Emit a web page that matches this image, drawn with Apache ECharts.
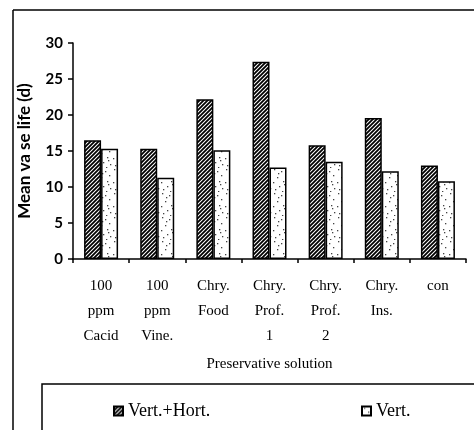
<!DOCTYPE html>
<html>
<head>
<meta charset="utf-8">
<script src="https://cdn.jsdelivr.net/npm/echarts@6/dist/echarts.min.js"></script>
<style>
  html, body { margin: 0; padding: 0; background: #fff; }
  #chart { width: 474px; height: 430px; }
</style>
</head>
<body>
<div id="chart"></div>
<script>
const categories = ['100\nppm\nCacid', '100\nppm\nVine.', 'Chry.\nFood', 'Chry.\nProf.\n1', 'Chry.\nProf.\n2', 'Chry.\nIns.', 'con']
const vertHort = [16.5, 15.3, 22.2, 27.4, 15.8, 19.6, 13.0]
const vert = [15.3, 11.3, 15.1, 12.7, 13.5, 12.2, 10.8]
const seriesNames = ['Vert.+Hort.', 'Vert.']

// hatch fill: black diagonal "/" lines
function hatchPattern() {
  const c = document.createElement('canvas')
  c.width = 4
  c.height = 4
  const g = c.getContext('2d')
  g.fillStyle = '#fff'
  g.fillRect(0, 0, 4, 4)
  g.strokeStyle = '#000'
  g.lineWidth = 1.8
  g.beginPath()
  g.moveTo(-1, 5); g.lineTo(5, -1)
  g.moveTo(-1, 1); g.lineTo(1, -1)
  g.moveTo(3, 5); g.lineTo(5, 3)
  g.stroke()
  return c
}

// speckled fill: sparse dots on white
function dotPattern() {
  const c = document.createElement('canvas')
  c.width = 16
  c.height = 24
  const g = c.getContext('2d')
  g.fillStyle = '#fff'
  g.fillRect(0, 0, 16, 24)
  g.fillStyle = '#444'
  const dots = [[2, 1], [9, 3], [13, 7], [5, 9], [1, 14], [11, 13], [7, 18], [14, 20], [3, 21], [10, 23], [6, 5], [12, 16]]
  dots.forEach(([x, y]) => g.fillRect(x, y, 1.3, 1.3))
  return c
}

const chart = echarts.init(document.getElementById('chart'))
const serif = 'Liberation Serif'

chart.setOption({
  animation: false,
  backgroundColor: '#fff',
  grid: { left: 73, right: 8, top: 43, bottom: 171 },
  legend: [
    {
      data: [seriesNames[0]],
      left: 108, top: 397,
      itemWidth: 9, itemHeight: 9, itemGap: 4,
      icon: 'rect',
      textStyle: { fontFamily: serif, fontSize: 18, color: '#000' }
    },
    {
      data: [seriesNames[1]],
      left: 356, top: 397,
      itemWidth: 9, itemHeight: 9, itemGap: 4,
      icon: 'rect',
      textStyle: { fontFamily: serif, fontSize: 18, color: '#000' }
    }
  ],
  xAxis: {
    type: 'category',
    data: categories,
    name: 'Preservative solution',
    nameLocation: 'middle',
    nameGap: 98,
    nameTextStyle: { fontFamily: serif, fontSize: 15, color: '#000' },
    axisLine: { lineStyle: { color: '#000', width: 1.5 } },
    axisTick: { show: true, length: 4, lineStyle: { color: '#000', width: 1.5 } },
    axisLabel: {
      interval: 0,
      margin: 15,
      fontFamily: serif, fontSize: 15, color: '#000', lineHeight: 25
    }
  },
  yAxis: {
    type: 'value',
    min: 0, max: 30, interval: 5,
    name: 'Mean va se life (d)',
    nameLocation: 'middle',
    nameGap: 40,
    nameTextStyle: { fontFamily: 'Lato', fontWeight: 'bold', fontSize: 17, color: '#000' },
    splitLine: { show: false },
    axisLine: { show: true, lineStyle: { color: '#000', width: 1.5 } },
    axisTick: { show: true, length: 5, lineStyle: { color: '#000', width: 1.5 } },
    axisLabel: { fontFamily: 'Lato', fontWeight: 'bold', fontSize: 15, color: '#000', margin: 10 }
  },
  series: [
    {
      name: seriesNames[0],
      type: 'bar',
      data: vertHort,
      barWidth: 17,
      barGap: '0%',
      itemStyle: {
        color: { image: hatchPattern(), repeat: 'repeat' },
        borderColor: '#000', borderWidth: 1.5
      }
    },
    {
      name: seriesNames[1],
      type: 'bar',
      data: vert,
      barWidth: 17,
      itemStyle: {
        color: { image: dotPattern(), repeat: 'repeat' },
        borderColor: '#000', borderWidth: 1.5
      }
    }
  ],
  graphic: [
    // figure frame (left and top edges of the scanned box)
    { type: 'line', shape: { x1: 13, y1: 10, x2: 13, y2: 430 }, style: { stroke: '#000', lineWidth: 1.5 } },
    { type: 'line', shape: { x1: 13, y1: 10, x2: 474, y2: 10 }, style: { stroke: '#000', lineWidth: 1.5 } },
    // legend box
    { type: 'rect', shape: { x: 42, y: 384, width: 440, height: 60 }, style: { fill: 'none', stroke: '#000', lineWidth: 1.5 } }
  ]
})
</script>
</body>
</html>
